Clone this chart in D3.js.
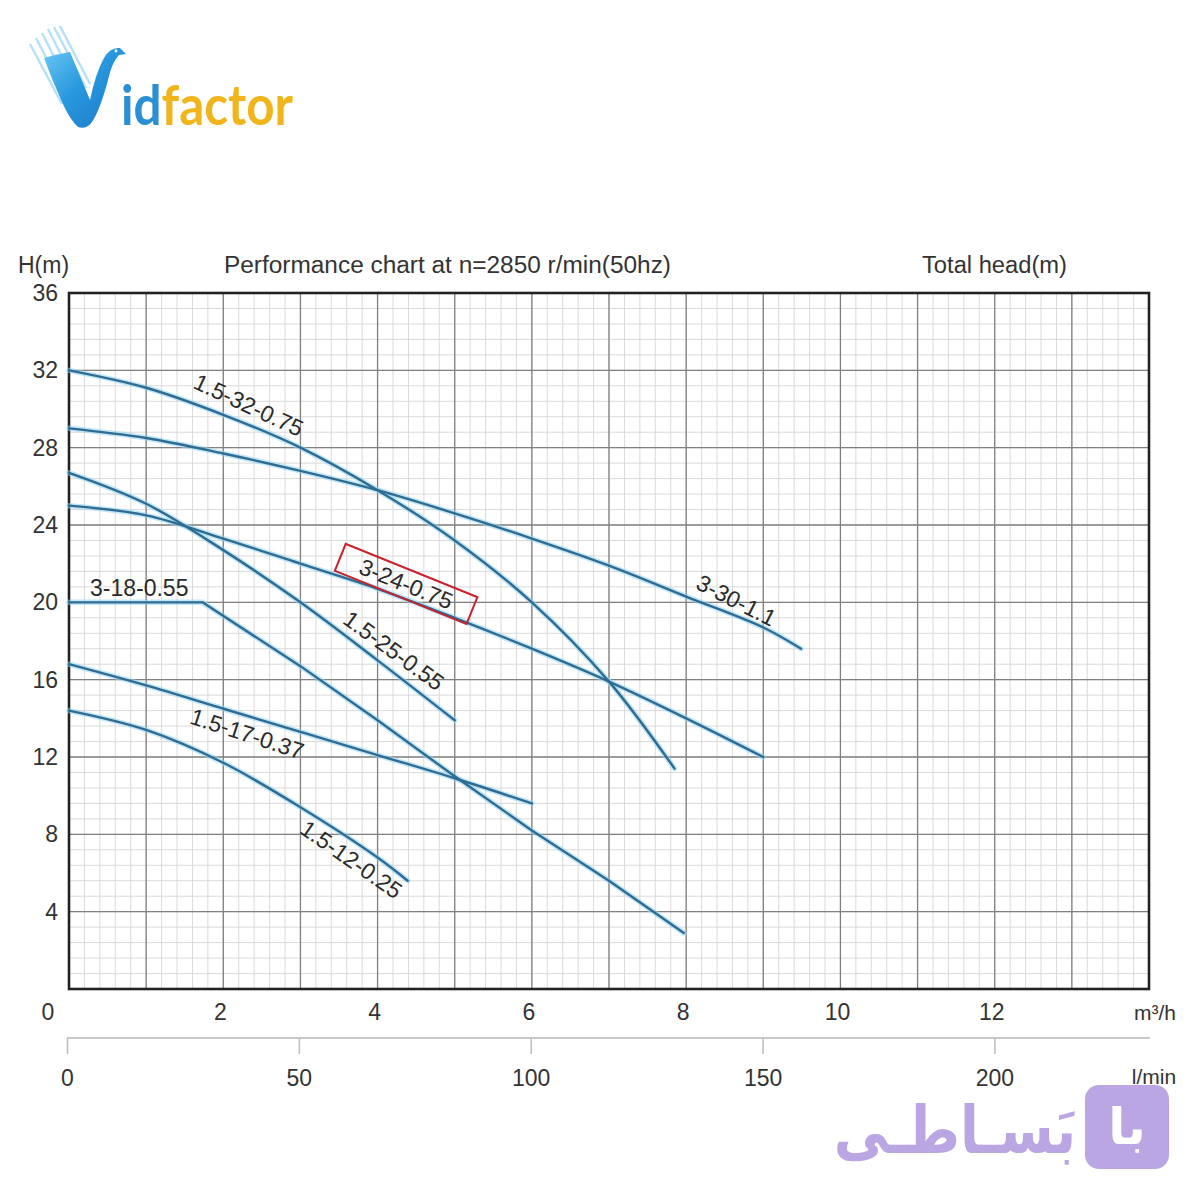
<!DOCTYPE html>
<html><head><meta charset="utf-8">
<script src="https://cdn.jsdelivr.net/npm/d3@7/dist/d3.min.js"></script>
<style>
html,body{margin:0;padding:0;background:#fff;}
svg{display:block;font-family:"Liberation Sans",Arial,sans-serif;fill:#333;}
</style></head>
<body>
<svg id="chart" width="1200" height="1200"></svg>
<script>
// ---------------- DATA ----------------
const seriesNames = ["1.5-32-0.75","3-30-1.1","3-24-0.75","1.5-25-0.55","3-18-0.55","1.5-17-0.37","1.5-12-0.25"];
const flow_1_5_32_075 = [0,1,2,3,4,5,6,7,7.85];
const head_1_5_32_075 = [32,31.1,29.7,28.0,25.8,23.2,20.0,15.9,11.4];
const flow_3_30_11 = [0,1,2,3,4,5,6,7,8,9,9.49];
const head_3_30_11 = [29.0,28.5,27.7,26.8,25.8,24.6,23.3,21.9,20.3,18.7,17.6];
const flow_3_24_075 = [0,1,2,3,4,5,6,7,8,9];
const head_3_24_075 = [25.0,24.5,23.3,22.0,20.7,19.2,17.6,15.9,14.0,12.0];
const flow_1_5_25_055 = [0,1,2,3,4,5];
const head_1_5_25_055 = [26.7,25.1,22.7,20.0,17.0,13.9];
const flow_3_18_055 = [0,1.73,3,4,5,6,7,7.97];
const head_3_18_055 = [20,20,16.7,13.9,11.0,8.2,5.6,2.9];
const flow_1_5_17_037 = [0,1,2,3,4,5,6];
const head_1_5_17_037 = [16.8,15.7,14.5,13.3,12.1,10.9,9.6];
const flow_1_5_12_025 = [0,1,2,3,4,4.39];
const head_1_5_12_025 = [14.4,13.4,11.7,9.4,6.8,5.6];

const headTicks = [36,32,28,24,20,16,12,8,4];
const flowTicks = [0,2,4,6,8,10,12];
const lminTicks = [0,50,100,150,200];

const titleText = "Performance chart at n=2850 r/min(50hz)";
const yAxisTitle = "H(m)";
const rightTitle = "Total head(m)";
const xUnit = "m³/h";
const x2Unit = "l/min";

// ---------------- LAYOUT ----------------
const svg = d3.select("#chart");
const x = d3.scaleLinear().domain([0,14]).range([69,1149]);
const y = d3.scaleLinear().domain([0,36]).range([989,293]);
const xl = d3.scaleLinear().domain([0,14/0.06]).range([67,1149]);

const flows = [flow_1_5_32_075,flow_3_30_11,flow_3_24_075,flow_1_5_25_055,flow_3_18_055,flow_1_5_17_037,flow_1_5_12_025];
const heads = [head_1_5_32_075,head_3_30_11,head_3_24_075,head_1_5_25_055,head_3_18_055,head_1_5_17_037,head_1_5_12_025];
const series = seriesNames.map((n,i)=>({name:n, pts: flows[i].map((f,j)=>[f,heads[i][j]])}));

// label placement (data coords + angle)
const labelPos = {
  "1.5-32-0.75":{x:2.33,y:30.2,a:25},
  "3-30-1.1":{x:8.65,y:20.1,a:27},
  "3-24-0.75":{x:4.37,y:20.95,a:22,box:true},
  "1.5-25-0.55":{x:4.21,y:17.5,a:36},
  "3-18-0.55":{x:0.91,y:20.75,a:0},
  "1.5-17-0.37":{x:2.31,y:13.2,a:18},
  "1.5-12-0.25":{x:3.66,y:6.7,a:35}
};

// ---------------- GRID ----------------
const g = svg.append("g");
const minorX = d3.range(0,14.0001,0.2);
const minorY = d3.range(0,36.0001,0.8);
g.selectAll(".mx").data(minorX).join("line")
  .attr("x1",d=>x(d)).attr("x2",d=>x(d)).attr("y1",y(36)).attr("y2",y(0))
  .attr("stroke","#d6d6d6").attr("stroke-width",0.9);
g.selectAll(".my").data(minorY).join("line")
  .attr("y1",d=>y(d)).attr("y2",d=>y(d)).attr("x1",x(0)).attr("x2",x(14))
  .attr("stroke","#d6d6d6").attr("stroke-width",0.9);
g.selectAll(".Mx").data(d3.range(0,15,1)).join("line")
  .attr("x1",d=>x(d)).attr("x2",d=>x(d)).attr("y1",y(36)).attr("y2",y(0))
  .attr("stroke","#808080").attr("stroke-width",1.3);
g.selectAll(".My").data(d3.range(0,37,4)).join("line")
  .attr("y1",d=>y(d)).attr("y2",d=>y(d)).attr("x1",x(0)).attr("x2",x(14))
  .attr("stroke","#808080").attr("stroke-width",1.3);
g.append("rect").attr("x",x(0)).attr("y",y(36)).attr("width",x(14)-x(0)).attr("height",y(0)-y(36))
  .attr("fill","none").attr("stroke","#222").attr("stroke-width",2.6);

// ---------------- CURVES ----------------
const smooth = d3.line().x(d=>x(d[0])).y(d=>y(d[1])).curve(d3.curveCatmullRom.alpha(0.5));
const straight = d3.line().x(d=>x(d[0])).y(d=>y(d[1]));
const pathFor = s => (s.name==="3-18-0.55" ? straight : smooth)(s.pts);
const cg = svg.append("g");
series.forEach(s=>{
  cg.append("path").attr("d",pathFor(s)).attr("fill","none")
    .attr("stroke","#8fd6f2").attr("stroke-width",5.5).attr("stroke-opacity",0.55).attr("stroke-linecap","round");
});
series.forEach(s=>{
  cg.append("path").attr("d",pathFor(s)).attr("fill","none")
    .attr("stroke","#306b92").attr("stroke-width",2.4).attr("stroke-linecap","round").attr("stroke-linejoin","round");
});

// ---------------- CURVE LABELS ----------------
series.forEach(s=>{
  const p = labelPos[s.name];
  const lg = svg.append("g").attr("transform",`translate(${x(p.x)},${y(p.y)}) rotate(${p.a})`);
  if(p.box){
    lg.append("rect").attr("x",-71).attr("y",-14.5).attr("width",142).attr("height",29)
      .attr("fill","none").attr("stroke","#c8222c").attr("stroke-width",2);
  }
  lg.append("text").attr("text-anchor","middle").attr("dominant-baseline","central")
    .attr("font-size",23).attr("fill","#2a2a2a").text(s.name);
});

// ---------------- AXES TEXT ----------------
const yt = svg.append("g");
yt.selectAll("text").data(headTicks).join("text")
  .attr("x",58).attr("y",d=>y(d)).attr("text-anchor","end").attr("dominant-baseline","central")
  .attr("font-size",23).attr("fill","#333").text(d=>d);

const xt = svg.append("g");
xt.selectAll("text").data(flowTicks).join("text")
  .attr("x",d=>d===0? x(d)-21 : x(d)-3).attr("y",1012).attr("text-anchor","middle").attr("dominant-baseline","central")
  .attr("font-size",23).attr("fill","#333").text(d=>d);
svg.append("text").attr("x",1155).attr("y",1012).attr("text-anchor","middle").attr("dominant-baseline","central")
  .attr("font-size",21).attr("fill","#333").text(xUnit);

// l/min axis
const ax2 = d3.axisBottom(xl).tickValues(lminTicks).tickSize(16).tickSizeOuter(0).tickPadding(16).tickFormat(d=>d);
const a2 = svg.append("g").attr("transform","translate(0,1038)").call(ax2);
a2.attr("font-family",null).attr("font-size",null);
a2.select(".domain").attr("stroke","#c9c9c9").attr("stroke-width",2)
  .attr("d",`M${xl(0)},0H1150`);
a2.selectAll(".tick line").attr("stroke","#c0c0c0").attr("stroke-width",1.6);
a2.selectAll(".tick text").attr("font-size",23).attr("fill","#333");
svg.append("text").attr("x",1154).attr("y",1076).attr("text-anchor","middle").attr("dominant-baseline","central")
  .attr("font-size",21).attr("fill","#333").text(x2Unit);

// header
svg.append("text").attr("x",18).attr("y",265).attr("dominant-baseline","central").attr("font-size",23).attr("fill","#333").text(yAxisTitle);
svg.append("text").attr("x",224).attr("y",265).attr("dominant-baseline","central").attr("font-size",23).attr("fill","#333")
  .attr("textLength",447).attr("lengthAdjust","spacingAndGlyphs").text(titleText);
svg.append("text").attr("x",922).attr("y",265).attr("dominant-baseline","central").attr("font-size",23).attr("fill","#333")
  .attr("textLength",145).attr("lengthAdjust","spacingAndGlyphs").text(rightTitle);

// ---------------- LOGO TOP-LEFT ----------------
const defs = svg.append("defs");
const grad = defs.append("linearGradient").attr("id","vgrad").attr("x1","0").attr("y1","0").attr("x2","1").attr("y2","1");
grad.append("stop").attr("offset","0").attr("stop-color","#6cc8f3");
grad.append("stop").attr("offset","0.45").attr("stop-color","#2898de");
grad.append("stop").attr("offset","1").attr("stop-color","#1b76c6");
const tg = defs.append("linearGradient").attr("id","txtgrad").attr("gradientUnits","userSpaceOnUse")
  .attr("x1",121).attr("y1",0).attr("x2",293).attr("y2",0);
tg.append("stop").attr("offset",0).attr("stop-color","#2a8fd4");
tg.append("stop").attr("offset",0.222).attr("stop-color","#2a8fd4");
tg.append("stop").attr("offset",0.222).attr("stop-color","#f1b51c");
tg.append("stop").attr("offset",1).attr("stop-color","#f1b51c");
const logo = svg.append("g");
[[30,44,62,104],[36,38,68,100],[42,33,74,96],[48,29,80,92],[54,27,86,88],[60,26,90,84]].forEach(s=>{
  logo.append("line").attr("x1",s[0]).attr("y1",s[1]).attr("x2",s[2]).attr("y2",s[3])
    .attr("stroke","#8ecff2").attr("stroke-width",2.4).attr("stroke-opacity",0.65);
});
logo.append("path").attr("fill","url(#vgrad)")
  .attr("d","M44,58 Q58,54 70,52 Q80,76 90,100 Q96,72 104,58 Q110,47 120,48 L126,54 L119,55 Q112,62 108,80 Q100,110 92,122 Q86,130 78,127 Q70,120 62,102 Q52,80 44,58 Z");
logo.append("circle").attr("cx",116).attr("cy",51).attr("r",1.4).attr("fill","#fff");
logo.append("text").attr("x",121).attr("y",125).attr("font-size",56).attr("font-family","Lato, 'Open Sans', sans-serif")
  .attr("font-weight",700).attr("fill","url(#txtgrad)").attr("textLength",172).attr("lengthAdjust","spacingAndGlyphs")
  .text("idfactor");

// ---------------- LOGO BOTTOM-RIGHT ----------------
const bl = svg.append("g");
bl.append("rect").attr("x",1085).attr("y",1085).attr("width",84).attr("height",84).attr("rx",14).attr("fill","#b9a6e2");
bl.append("text").attr("x",1127).attr("y",1144).attr("text-anchor","middle")
  .attr("font-size",50).attr("font-family","'DejaVu Sans', sans-serif").attr("font-weight",700).attr("fill","#fff").text("با");
bl.append("g").attr("transform","translate(955,1130) scale(1,1.2)")
  .append("text").attr("x",0).attr("y",0).attr("text-anchor","middle").attr("dominant-baseline","central")
  .attr("font-size",55).attr("font-family","'DejaVu Sans', sans-serif").attr("font-weight",700).attr("fill","#b9a6e2")
  .text("بَسـاطـی");
</script>
</body></html>
